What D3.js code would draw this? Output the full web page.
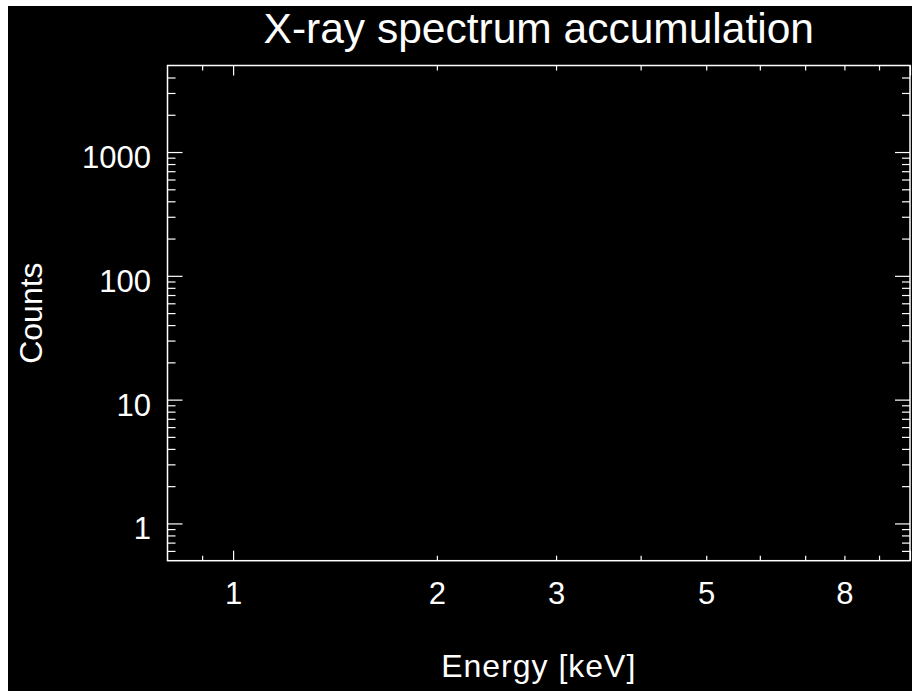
<!DOCTYPE html>
<html>
<head>
<meta charset="utf-8">
<script src="https://cdn.jsdelivr.net/npm/d3@7"></script>
<style>
  html, body { margin: 0; padding: 0; background: #ffffff; }
  svg { display: block; }
  text { font-family: "Liberation Sans", Arial, Helvetica, sans-serif; fill: #ffffff; }
</style>
</head>
<body>
<div id="chart"></div>
<script>
// ---- data (the reference plot shows an empty spectrum: axes only) ----
const energyKeV = [];        // spectrum energies (none plotted)
const countValues = [];      // spectrum counts (none plotted)
const xDomain = [0.8, 10];
const yDomain = [0.5, 5000];
const xMajorTicks = [1, 10];
const xMinorTicks = [0.9, 2, 3, 4, 5, 6, 7, 8, 9];
const xTickLabels = [1, 2, 3, 5, 8];
const yMajorTicks = [1, 10, 100, 1000];
const yMinorTicks = [0.6, 0.7, 0.8, 0.9, 2, 3, 4, 5, 6, 7, 8, 9,
                     20, 30, 40, 50, 60, 70, 80, 90,
                     200, 300, 400, 500, 600, 700, 800, 900,
                     2000, 3000, 4000];
const yTickLabels = [1, 10, 100, 1000];
const titleText = "X-ray spectrum accumulation";
const xTitle = "Energy [keV]";
const yTitle = "Counts";

// ---- layout ----
const W = 912, H = 691;
const L = 167.5, R = 910, T = 65.5, B = 560.7;

const svg = d3.select("#chart").append("svg").attr("width", W).attr("height", H);
svg.append("rect").attr("x", 8).attr("y", 6).attr("width", W - 8).attr("height", H - 6).attr("fill", "#000");

const x = d3.scaleLog().domain(xDomain).range([L, R]);
const y = d3.scaleLog().domain(yDomain).range([B, T]);

function styleTicks(g) {
  g.select(".domain").remove();
  g.selectAll(".tick line").attr("stroke", "#fff").attr("stroke-width", 1.2);
  return g;
}

const fmtNone = () => "";
styleTicks(svg.append("g").attr("transform", `translate(0,${B})`)
  .call(d3.axisBottom(x).tickValues(xMajorTicks).tickSize(-10).tickFormat(fmtNone)));
styleTicks(svg.append("g").attr("transform", `translate(0,${B})`)
  .call(d3.axisBottom(x).tickValues(xMinorTicks).tickSize(-5).tickFormat(fmtNone)));
styleTicks(svg.append("g").attr("transform", `translate(0,${T})`)
  .call(d3.axisTop(x).tickValues(xMajorTicks).tickSize(-10).tickFormat(fmtNone)));
styleTicks(svg.append("g").attr("transform", `translate(0,${T})`)
  .call(d3.axisTop(x).tickValues(xMinorTicks).tickSize(-5).tickFormat(fmtNone)));

styleTicks(svg.append("g").attr("transform", `translate(${L},0)`)
  .call(d3.axisLeft(y).tickValues(yMajorTicks).tickSize(-15).tickFormat(fmtNone)));
styleTicks(svg.append("g").attr("transform", `translate(${L},0)`)
  .call(d3.axisLeft(y).tickValues(yMinorTicks).tickSize(-8).tickFormat(fmtNone)));
styleTicks(svg.append("g").attr("transform", `translate(${R},0)`)
  .call(d3.axisRight(y).tickValues(yMajorTicks).tickSize(-15).tickFormat(fmtNone)));
styleTicks(svg.append("g").attr("transform", `translate(${R},0)`)
  .call(d3.axisRight(y).tickValues(yMinorTicks).tickSize(-8).tickFormat(fmtNone)));

// tick labels
const xl = svg.append("g").attr("transform", `translate(0,${B})`)
  .call(d3.axisBottom(x).tickValues(xTickLabels).tickSize(0).tickPadding(21).tickFormat(d3.format("d")));
xl.select(".domain").remove();
xl.selectAll("text").attr("font-size", 31).attr("fill", "#fff")
  .style("font-family", '"Liberation Sans", Arial, Helvetica, sans-serif');

const yl = svg.append("g").attr("transform", `translate(${L},0)`)
  .call(d3.axisLeft(y).tickValues(yTickLabels).tickSize(0).tickPadding(16.5).tickFormat(d3.format("d")));
yl.select(".domain").remove();
yl.selectAll("text").attr("font-size", 31).attr("dy", "0.5em").attr("fill", "#fff")
  .style("font-family", '"Liberation Sans", Arial, Helvetica, sans-serif');

// frame
svg.append("rect").attr("x", L).attr("y", T).attr("width", R - L).attr("height", B - T)
  .attr("fill", "none").attr("stroke", "#fff").attr("stroke-width", 1.5);

// data line (empty in the reference)
const line = d3.line().x((d, i) => x(energyKeV[i])).y(d => y(d));
svg.append("path").datum(countValues).attr("d", line).attr("fill", "none").attr("stroke", "#fff");

// titles
svg.append("text").attr("x", (L + R) / 2).attr("y", 43).attr("text-anchor", "middle")
  .attr("font-size", 42.5).text(titleText);
svg.append("text").attr("x", (L + R) / 2).attr("y", 677).attr("text-anchor", "middle")
  .attr("font-size", 32).attr("letter-spacing", 1).text(xTitle);
svg.append("text").attr("transform", `translate(42,${(T + B) / 2}) rotate(-90)`)
  .attr("text-anchor", "middle").attr("font-size", 32).text(yTitle);
</script>
</body>
</html>
